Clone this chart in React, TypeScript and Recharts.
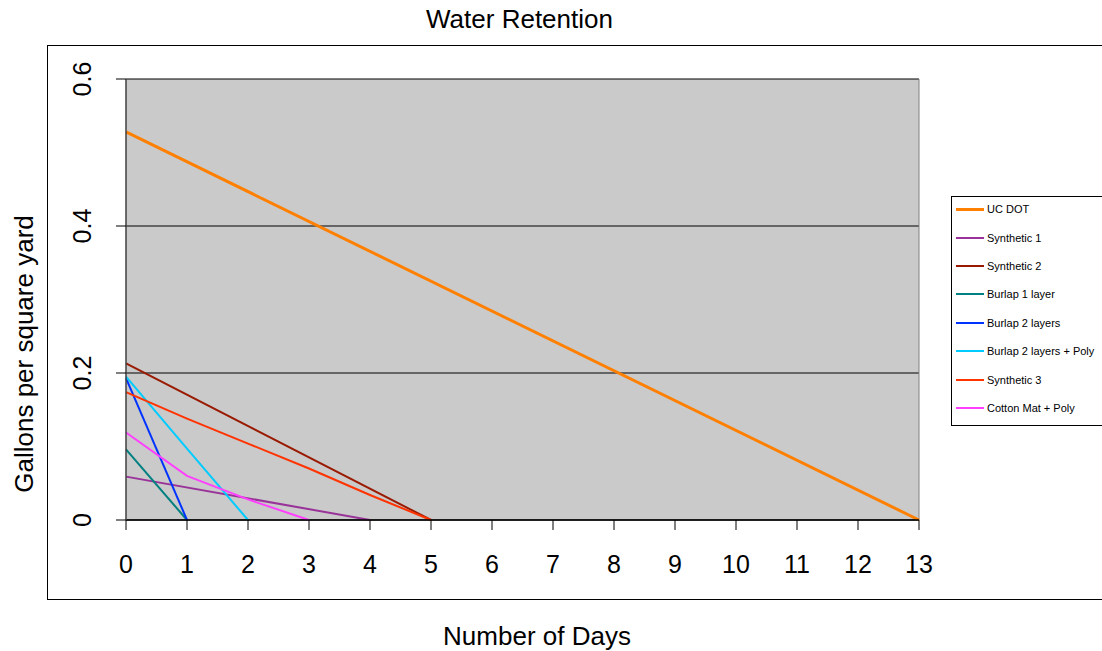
import React from 'react';
import { LineChart, Line, XAxis, YAxis, CartesianGrid, Legend, ReferenceLine } from 'recharts';

const FONT = '"Liberation Sans", Arial, Helvetica, sans-serif';

const dayTicks = [0, 1, 2, 3, 4, 5, 6, 7, 8, 9, 10, 11, 12, 13];
const valueTicks = [0, 0.2, 0.4, 0.6];

const ucDotDays = [0, 13];
const ucDotValues = [0.528, 0];

const synthetic1Days = [0, 4];
const synthetic1Values = [0.059, 0];

const synthetic2Days = [0, 5];
const synthetic2Values = [0.213, 0];

const burlap1Days = [0, 1];
const burlap1Values = [0.096, 0];

const burlap2Days = [0, 1];
const burlap2Values = [0.193, 0];

const burlap2PolyDays = [0, 1, 2];
const burlap2PolyValues = [0.195, 0.097, 0];

const synthetic3Days = [0, 1, 2, 3, 4, 5];
const synthetic3Values = [0.174, 0.138, 0.104, 0.07, 0.034, 0];

const cottonDays = [0, 1, 2, 3];
const cottonValues = [0.119, 0.06, 0.028, 0];

const toPoints = (days: number[], values: number[]) =>
  days.map((day, i) => ({ day, value: values[i] }));

const series = [
  { name: 'UC DOT', color: '#FF8000', width: 3, data: toPoints(ucDotDays, ucDotValues) },
  { name: 'Synthetic 1', color: '#993399', width: 2, data: toPoints(synthetic1Days, synthetic1Values) },
  { name: 'Synthetic 2', color: '#991A00', width: 2, data: toPoints(synthetic2Days, synthetic2Values) },
  { name: 'Burlap 1 layer', color: '#008080', width: 2, data: toPoints(burlap1Days, burlap1Values) },
  { name: 'Burlap 2 layers', color: '#0033FF', width: 2, data: toPoints(burlap2Days, burlap2Values) },
  { name: 'Burlap 2 layers + Poly', color: '#00CCFF', width: 2, data: toPoints(burlap2PolyDays, burlap2PolyValues) },
  { name: 'Synthetic 3', color: '#FF3300', width: 2, data: toPoints(synthetic3Days, synthetic3Values) },
  { name: 'Cotton Mat + Poly', color: '#FF40FF', width: 2, data: toPoints(cottonDays, cottonValues) },
];

const XTick = (props: any) => {
  const { x, y, payload } = props;
  return (
    <text x={x} y={y} dy={41} textAnchor="middle" fontSize={25} fill="#000" fontFamily={FONT}>
      {payload.value}
    </text>
  );
};

const YTick = (props: any) => {
  const { x, y, payload } = props;
  const bx = x - 23;
  return (
    <text x={bx} y={y} transform={`rotate(-90, ${bx}, ${y})`} textAnchor="middle" fontSize={25} fill="#000" fontFamily={FONT}>
      {payload.value}
    </text>
  );
};

// legend keeps the series order, not the library's alphabetical one
const LegendBox = () => (
  <div style={{ border: '1px solid #000', background: '#fff', width: 170, height: 230, boxSizing: 'border-box', fontFamily: FONT, fontSize: 11, color: '#000' }}>
    <div style={{ marginTop: -2 }}>
      {series.map((s) => (
        <div key={s.name} style={{ height: 28.4, display: 'flex', alignItems: 'center' }}>
          <span
            style={{
              display: 'inline-block',
              width: 28,
              height: s.width,
              background: s.color,
              marginLeft: 4,
              marginRight: 3,
            }}
          />
          <span style={{ whiteSpace: 'nowrap' }}>{s.name}</span>
        </div>
      ))}
    </div>
  </div>
);

const App = () => {
  return (
    <div style={{ position: 'relative', width: 1102, height: 651, overflow: 'hidden', background: '#fff' }}>
      <style>{'body{margin:0}'}</style>
      <div
        style={{
          position: 'absolute',
          left: 47,
          top: 45,
          width: 1100,
          height: 555,
          border: '1.5px solid #000',
          boxSizing: 'border-box',
        }}
      />
      <div style={{ position: 'absolute', left: 0, top: 6, width: 1039, textAlign: 'center', fontFamily: FONT, fontSize: 26, lineHeight: '26px' }}>
        Water Retention
      </div>
      <div style={{ position: 'absolute', left: 0, top: 0 }}>
        <LineChart width={1102} height={651} margin={{ top: 79, right: 183, bottom: 101, left: 66 }}>
          <CartesianGrid horizontal vertical={false} stroke="#000" fill="#CACACA" fillOpacity={1} horizontalValues={valueTicks} />
          <ReferenceLine x={13} stroke="#808080" />
          <XAxis
            dataKey="day"
            type="number"
            domain={[0, 13]}
            ticks={dayTicks}
            interval={0}
            height={30}
            tickSize={10}
            tickLine={{ stroke: '#000' }}
            axisLine={{ stroke: '#000', strokeWidth: 1.5 }}
            tick={<XTick />}
            label={() => (
              <text x={537} y={645} textAnchor="middle" fontSize={26} fill="#000" fontFamily={FONT}>
                Number of Days
              </text>
            )}
          />
          <YAxis
            type="number"
            domain={[0, 0.6]}
            ticks={valueTicks}
            interval={0}
            width={60}
            tickSize={10}
            tickLine={{ stroke: '#000' }}
            axisLine={{ stroke: '#404040', strokeWidth: 1.5 }}
            tick={<YTick />}
            label={() => (
              <text x={33} y={354} transform="rotate(-90, 33, 354)" textAnchor="middle" fontSize={26} fill="#000" fontFamily={FONT}>
                Gallons per square yard
              </text>
            )}
          />
          <Legend
            layout="vertical"
            align="center"
            verticalAlign="middle"
            content={<LegendBox />}
            wrapperStyle={{ left: 951, top: 196, width: 170, height: 230 }}
          />
          {series.map((s) => (
            <Line
              key={s.name}
              data={s.data}
              dataKey="value"
              name={s.name}
              type="linear"
              stroke={s.color}
              strokeWidth={s.width}
              dot={false}
              activeDot={false}
              isAnimationActive={false}
            />
          ))}
        </LineChart>
      </div>
    </div>
  );
};

export default App;
